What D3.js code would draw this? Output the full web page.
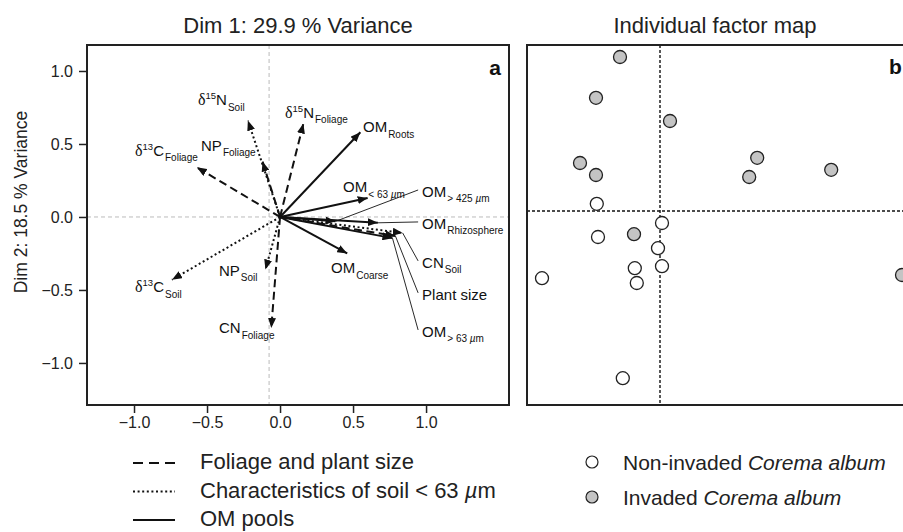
<!DOCTYPE html>
<html>
<head>
<meta charset="utf-8">
<script src="https://cdn.jsdelivr.net/npm/d3@7"></script>
<style>
  html, body { margin: 0; padding: 0; background: #fff; }
  svg { display: block; font-family: "Liberation Sans", Arial, sans-serif; }
</style>
</head>
<body>
<svg id="chart" width="903" height="532"></svg>
<script>
// ---------------- DATA ----------------
// Panel a: variable loadings on Dim 1 / Dim 2
const varIds   = ["d15N_Soil","NP_Foliage","d13C_Foliage","d15N_Foliage","OM_Roots","OM_lt63","OM_gt425","OM_Rhizosphere","CN_Soil","Plant_size","OM_gt63","OM_Coarse","d13C_Soil","NP_Soil","CN_Foliage"];
const dim1     = [-0.22, -0.12, -0.57, 0.16, 0.55, 0.60, 0.38, 0.67, 0.84, 0.79, 0.77, 0.46, -0.74, -0.10, -0.06];
const dim2     = [ 0.66,  0.38,  0.34, 0.64, 0.58, 0.13, -0.03, -0.04, -0.11, -0.13, -0.145, -0.25, -0.43, -0.36, -0.76];
const varGroup = ["soil","foliage","foliage","foliage","om","om","om","om","soil","foliage","om","om","soil","soil","foliage"];
const labelPre  = ["δ","","δ","δ","","","","","","","","","δ","",""];
const labelSup  = ["15","","13","15","","","","","","","","","13","",""];
const labelMain = ["N","NP","C","N","OM","OM","OM","OM","CN","Plant size","OM","OM","C","NP","CN"];
const labelSub  = ["Soil","Foliage","Foliage","Foliage","Roots","< 63 µm","> 425 µm","Rhizosphere","Soil","","> 63 µm","Coarse","Soil","Soil","Foliage"];

const groupKeys   = ["foliage","soil","om"];
const groupLabels = ["Foliage and plant size","Characteristics of soil < 63 µm","OM pools"];

const axisTicks = [-1.0, -0.5, 0.0, 0.5, 1.0];
const refLineX = -0.075, refLineY = 0.0;

// Panel b: individuals
const invadedX    = [-1.0, -1.6, 0.25, -2.0, -1.6, 2.43, 2.23, 4.28, -0.65, 6.05];
const invadedY    = [3.85, 2.83, 2.25, 1.2, 0.9, 1.33, 0.85, 1.03, -0.58, -1.6];
const nonInvadedX = [-1.58, 0.05, -1.55, -0.05, -0.63, 0.05, -2.95, -0.58, -0.93];
const nonInvadedY = [0.18, -0.3, -0.65, -0.93, -1.43, -1.38, -1.68, -1.8, -4.18];

// ---------------- LAYOUT (label anchors, in data units of panel a) ----------------
const labelAtX = [-0.562, -0.541, -0.993, 0.034, 0.568, 0.432, 0.973, 0.973, 0.973, 0.973, 0.973, 0.349, -0.993, -0.418, -0.418];
const labelAtY = [0.767, 0.452, 0.418, 0.678, 0.582, 0.171, 0.137, -0.082, -0.349, -0.568, -0.822, -0.384, -0.514, -0.404, -0.795];
const hasLeader = ["OM_gt425","OM_Rhizosphere","CN_Soil","Plant_size","OM_gt63"];

const svg = d3.select("#chart");
svg.append("rect").attr("width",903).attr("height",532).attr("fill","#fff");

const dashFor = {foliage:"8,4.5", soil:"2,2.6", om:null};

// ---------------- PANEL A ----------------
const A = {left:87, right:509, top:45, bottom:405};
const xA = d3.scaleLinear().domain([-1.322, 1.568]).range([A.left, A.right]);
const yA = d3.scaleLinear().domain([-1.288, 1.178]).range([A.bottom, A.top]);

const defs = svg.append("defs");
defs.append("marker").attr("id","arrow")
  .attr("viewBox","0 0 10 8").attr("refX",10).attr("refY",4)
  .attr("markerWidth",10).attr("markerHeight",8)
  .attr("markerUnits","userSpaceOnUse").attr("orient","auto")
  .append("path").attr("d","M0,0 L10,4 L0,8 Z").attr("fill","#111");

const gA = svg.append("g");
// reference lines
gA.append("line").attr("x1",xA(refLineX)).attr("x2",xA(refLineX)).attr("y1",A.top).attr("y2",A.bottom)
  .attr("stroke","#bbb").attr("stroke-width",1).attr("stroke-dasharray","4,3");
gA.append("line").attr("x1",A.left).attr("x2",A.right).attr("y1",yA(refLineY)).attr("y2",yA(refLineY))
  .attr("stroke","#bbb").attr("stroke-width",1).attr("stroke-dasharray","4,3");

// axes
const fmt = d3.format(".1f");
const xAxis = gA.append("g").attr("transform",`translate(0,${A.bottom})`)
  .call(d3.axisBottom(xA).tickValues(axisTicks).tickFormat(fmt).tickSize(8).tickPadding(4));
const yAxis = gA.append("g").attr("transform",`translate(${A.left},0)`)
  .call(d3.axisLeft(yA).tickValues(axisTicks).tickFormat(fmt).tickSize(8).tickPadding(6));
[xAxis,yAxis].forEach(ax=>{
  ax.select(".domain").remove();
  ax.selectAll("line").attr("stroke","#222").attr("stroke-width",1.5);
  ax.selectAll("text").attr("font-size",16).attr("fill","#222").attr("font-family","Liberation Sans, Arial, sans-serif");
});

// leaders
const idx = d3.range(varIds.length);
gA.selectAll("line.leader").data(idx.filter(i=>hasLeader.includes(varIds[i]))).enter()
  .append("line").attr("class","leader")
  .attr("x1",i=>xA(dim1[i])).attr("y1",i=>yA(dim2[i]))
  .attr("x2",i=>xA(labelAtX[i])-4).attr("y2",i=>yA(labelAtY[i])-7)
  .attr("stroke","#111").attr("stroke-width",0.9);

// arrows
gA.selectAll("line.arrow").data(idx).enter()
  .append("line").attr("class","arrow")
  .attr("x1",xA(0)).attr("y1",yA(0))
  .attr("x2",i=>xA(dim1[i])).attr("y2",i=>yA(dim2[i]))
  .attr("stroke","#111").attr("stroke-width",2)
  .attr("stroke-dasharray",i=>dashFor[varGroup[i]])
  .attr("marker-end","url(#arrow)");

// labels
idx.forEach(i=>{
  const t = gA.append("text").attr("x",xA(labelAtX[i])).attr("y",yA(labelAtY[i]))
    .attr("font-size",15).attr("fill","#111");
  if (labelPre[i]) t.append("tspan").text(labelPre[i]).attr("font-family","Liberation Serif, Times New Roman, serif").attr("font-size",16);
  if (labelSup[i]) t.append("tspan").text(labelSup[i]).attr("font-size",9.5).attr("dy",-6);
  t.append("tspan").text(labelMain[i]).attr("dy",labelSup[i]?6:0);
  if (labelSub[i]) {
    const s = t.append("tspan").attr("font-size",10).attr("dy",5.5).attr("dx",1);
    const parts = labelSub[i].split("µ");
    s.append("tspan").text(parts[0]);
    if (parts.length>1) {
      s.append("tspan").text("µ").attr("font-style","italic");
      s.append("tspan").text(parts[1]);
    }
  }
});

// frame
gA.append("rect").attr("x",A.left).attr("y",A.top).attr("width",A.right-A.left).attr("height",A.bottom-A.top)
  .attr("fill","none").attr("stroke","#222").attr("stroke-width",2);
gA.append("text").attr("x",A.right-8).attr("y",A.top+30).attr("text-anchor","end")
  .attr("font-size",21).attr("font-weight","bold").attr("fill","#111").text("a");

// titles
svg.append("text").attr("x",(A.left+A.right)/2).attr("y",33).attr("text-anchor","middle")
  .attr("font-size",22).attr("fill","#222").text("Dim 1: 29.9 % Variance");
svg.append("text").attr("transform","translate(27,202) rotate(-90)").attr("text-anchor","middle")
  .attr("font-size",17.5).attr("fill","#222").text("Dim 2: 18.5 % Variance");

// legend a
const legA = svg.append("g");
groupKeys.forEach((k,j)=>{
  const cy = 463 + j*28.5;
  legA.append("line").attr("x1",133).attr("x2",175).attr("y1",cy).attr("y2",cy)
    .attr("stroke","#111").attr("stroke-width",2).attr("stroke-dasharray",k==="foliage"?"10,6":dashFor[k]);
  const t = legA.append("text").attr("x",200).attr("y",cy+6).attr("font-size",22).attr("fill","#222");
  const parts = groupLabels[j].split("µ");
  t.append("tspan").text(parts[0]);
  if (parts.length>1){ t.append("tspan").text("µ").attr("font-style","italic"); t.append("tspan").text(parts[1]); }
});

// ---------------- PANEL B ----------------
const B = {left:527, right:906, top:45, bottom:405};
const xB = d3.scaleLinear().domain([-3.325, 6.15]).range([B.left, B.right]);
const yB = d3.scaleLinear().domain([-4.85, 4.15]).range([B.bottom, B.top]);
const gB = svg.append("g");
gB.append("line").attr("x1",xB(0)).attr("x2",xB(0)).attr("y1",B.top).attr("y2",B.bottom)
  .attr("stroke","#111").attr("stroke-width",1.4).attr("stroke-dasharray","3,2");
gB.append("line").attr("x1",B.left).attr("x2",B.right).attr("y1",yB(0)).attr("y2",yB(0))
  .attr("stroke","#111").attr("stroke-width",1.4).attr("stroke-dasharray","3,2");

const invaded = invadedX.map((x,i)=>({x, y:invadedY[i]}));
const nonInvaded = nonInvadedX.map((x,i)=>({x, y:nonInvadedY[i]}));
gB.selectAll("circle.inv").data(invaded).enter().append("circle").attr("class","inv")
  .attr("cx",d=>xB(d.x)).attr("cy",d=>yB(d.y)).attr("r",6.5)
  .attr("fill","#c4c4c4").attr("stroke","#222").attr("stroke-width",1.3);
gB.selectAll("circle.non").data(nonInvaded).enter().append("circle").attr("class","non")
  .attr("cx",d=>xB(d.x)).attr("cy",d=>yB(d.y)).attr("r",6.5)
  .attr("fill","#fff").attr("stroke","#222").attr("stroke-width",1.3);

gB.append("rect").attr("x",B.left).attr("y",B.top).attr("width",B.right-B.left).attr("height",B.bottom-B.top)
  .attr("fill","none").attr("stroke","#222").attr("stroke-width",2);
gB.append("text").attr("x",889).attr("y",74).attr("font-size",21).attr("font-weight","bold").attr("fill","#111").text("b");

svg.append("text").attr("x",715).attr("y",33).attr("text-anchor","middle")
  .attr("font-size",22).attr("fill","#222").text("Individual factor map");

// legend b
const legB = svg.append("g");
const legBItems = [{fill:"#fff", pre:"Non-invaded "},{fill:"#c4c4c4", pre:"Invaded "}];
legBItems.forEach((it,j)=>{
  const cy = 462 + j*35;
  legB.append("circle").attr("cx",592).attr("cy",cy).attr("r",6).attr("fill",it.fill).attr("stroke","#222").attr("stroke-width",1.2);
  const t = legB.append("text").attr("x",623).attr("y",cy+7.5).attr("font-size",21).attr("fill","#222");
  t.append("tspan").text(it.pre);
  t.append("tspan").text("Corema album").attr("font-style","italic");
});
</script>
</body>
</html>
